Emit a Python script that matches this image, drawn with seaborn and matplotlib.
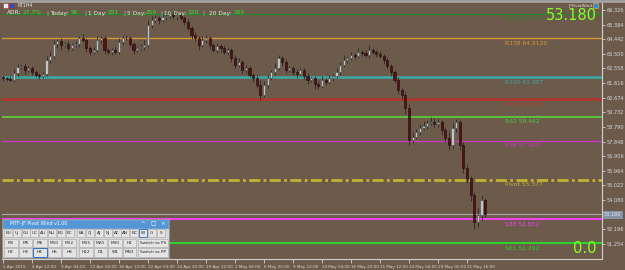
import matplotlib
matplotlib.use("Agg")
import matplotlib.pyplot as plt
import matplotlib.patches as mpatches
import seaborn as sns

# === Data ===
closes = [61.94, 61.88, 61.82, 62.27, 62.65, 62.72, 62.46, 62.59, 62.33, 62.14,
          62.07, 62.20, 63.10, 63.36, 64.14, 64.33, 64.07, 64.14, 63.88, 64.07,
          64.14, 64.52, 64.39, 63.88, 63.62, 63.75, 64.39, 64.52, 63.75, 63.62,
          63.75, 63.62, 64.26, 64.52, 64.52, 64.14, 63.75, 63.88, 63.94, 64.07,
          65.36, 65.68, 65.81, 65.68, 65.88, 65.94, 66.07, 65.94, 66.00, 65.81,
          65.55, 65.17, 64.72, 64.52, 64.07, 64.39, 64.52, 64.07, 63.75, 64.01,
          63.88, 63.62, 63.75, 63.23, 62.78, 62.98, 62.46, 62.59, 62.14, 61.94,
          61.49, 60.85, 61.49, 61.94, 62.33, 62.59, 63.23, 62.98, 62.46, 62.59,
          62.33, 62.20, 62.46, 62.07, 61.82, 61.94, 61.56, 61.43, 61.82, 61.69,
          61.94, 62.07, 62.33, 62.78, 63.10, 63.23, 63.43, 63.36, 63.62, 63.56,
          63.43, 63.75, 63.62, 63.49, 63.36, 63.10, 62.72, 62.33, 61.82, 61.17,
          60.85, 60.01, 57.95, 58.14, 58.47, 58.72, 58.85, 59.05, 59.11, 58.98,
          59.11, 58.59, 58.08, 57.63, 58.72, 59.11, 57.63, 56.15, 55.50, 54.41,
          52.67, 53.12, 54.08, 53.18]
first_open = 62.00
wick_up = [0.15, 0.10, 0.20, 0.25, 0.20, 0.15, 0.20, 0.10, 0.15, 0.10,
           0.15, 0.20, 0.25, 0.30, 0.25, 0.15, 0.20, 0.15, 0.20, 0.15,
           0.20, 0.15, 0.25, 0.15, 0.10, 0.20, 0.25, 0.15, 0.20, 0.10,
           0.15, 0.20, 0.25, 0.15, 0.20, 0.10, 0.15, 0.10, 0.20, 0.30,
           0.30, 0.25, 0.20, 0.15, 0.20, 0.15, 0.25, 0.20, 0.15, 0.10,
           0.15, 0.20, 0.15, 0.20, 0.10, 0.25, 0.20, 0.15, 0.10, 0.20,
           0.15, 0.20, 0.10, 0.15, 0.20, 0.25, 0.15, 0.20, 0.10, 0.15,
           0.20, 0.30, 0.25, 0.20, 0.15, 0.30, 0.20, 0.15, 0.20, 0.10,
           0.15, 0.20, 0.10, 0.15, 0.20, 0.10, 0.15, 0.20, 0.25, 0.15,
           0.20, 0.15, 0.25, 0.20, 0.30, 0.15, 0.20, 0.10, 0.25, 0.15,
           0.20, 0.30, 0.15, 0.10, 0.20, 0.15, 0.20, 0.10, 0.15, 0.20,
           0.15, 0.20, 0.25, 0.30, 0.20, 0.25, 0.30, 0.20, 0.35, 0.25,
           0.20, 0.15, 0.20, 0.45, 0.30, 0.20, 0.15, 0.20, 0.25, 0.15,
           0.20, 0.50, 0.30, 0.15]
wick_dn = [0.20, 0.15, 0.10, 0.15, 0.20, 0.10, 0.25, 0.15, 0.20, 0.15,
           0.20, 0.10, 0.15, 0.20, 0.15, 0.25, 0.30, 0.15, 0.20, 0.10,
           0.15, 0.20, 0.15, 0.25, 0.20, 0.15, 0.10, 0.20, 0.25, 0.15,
           0.20, 0.15, 0.10, 0.20, 0.15, 0.20, 0.25, 0.15, 0.10, 0.20,
           0.15, 0.20, 0.15, 0.25, 0.10, 0.20, 0.15, 0.20, 0.25, 0.15,
           0.20, 0.15, 0.25, 0.20, 0.30, 0.15, 0.20, 0.25, 0.15, 0.20,
           0.25, 0.15, 0.20, 0.25, 0.20, 0.15, 0.25, 0.20, 0.15, 0.25,
           0.20, 0.35, 0.15, 0.20, 0.15, 0.20, 0.15, 0.25, 0.20, 0.15,
           0.20, 0.25, 0.15, 0.20, 0.25, 0.15, 0.30, 0.20, 0.15, 0.20,
           0.15, 0.20, 0.15, 0.20, 0.15, 0.20, 0.15, 0.20, 0.15, 0.20,
           0.15, 0.20, 0.15, 0.20, 0.15, 0.25, 0.20, 0.25, 0.20, 0.25,
           0.30, 0.40, 0.35, 0.20, 0.15, 0.20, 0.15, 0.20, 0.15, 0.20,
           0.25, 0.30, 0.25, 0.30, 0.20, 0.25, 0.30, 0.35, 0.30, 0.40,
           0.45, 0.30, 0.35, 0.20]

date_ticks = [0, 8, 16, 24, 32, 40, 48, 56, 64, 72, 80, 88, 96, 104, 112, 120, 128]
date_labels = ["1 Apr 2015", "4 Apr 12:00", "9 Apr 04:00", "13 Apr 20:00", "16 Apr 12:00",
               "22 Apr 04:00", "24 Apr 20:00", "29 Apr 12:00", "2 May 04:00", "6 May 20:00",
               "9 May 12:00", "14 May 04:00", "16 May 20:00", "21 May 12:00", "24 May 04:00",
               "29 May 00:00", "31 May 16:00"]
price_ticks = [66.326, 65.384, 64.442, 63.500, 62.558, 61.616, 60.674, 59.732, 58.790,
               57.848, 56.906, 55.964, 55.022, 54.080, 52.196, 51.254]
last_price = 53.180

level_names = ["R161", "R138", "R100", "R78", "R61", "R38", "Pivot", "S38", "S61"]
level_values = [66.072, 64.5120, 61.987, 60.5720, 59.462, 57.902, 55.377, 52.852, 51.292]
level_texts = ["66.072", "64.5120", "61.987", "60.5720", "59.462", "57.902", "55.377", "52.852", "51.292"]
level_colors = ["#2f7f2f", "#d9973a", "#3fa3a0", "#b0372f", "#5cc23c", "#c93cc0", "#c2b232", "#f040f0", "#2ed02e"]
level_widths = [1.0, 1.0, 2.0, 2.0, 1.4, 1.0, 2.0, 1.5, 1.5]

adr_labels = ["ADR:", "Today:", "1 Day:", "5 Day:", "10 Day:", "20 Day:"]
adr_values = ["27.7%", "56", "251", "250", "220", "185"]

pairs_row = ["EU", "UJ", "GU", "UC", "AU", "NU", "EG", "EC", "EA", "CJ", "AJ", "NJ",
             "AC", "AN", "NC", "W", "G", "S"]
tf_row1 = ["M1", "M5", "M6", "M10", "M12", "M15", "M20", "M30", "H1", "Switch to PS"]
tf_row2 = ["H2", "H3", "H4", "H6", "H8", "H12", "D1", "W1", "MN1", "Switch to PP"]

# === Style ===
BG = "#6c5b4a"
sns.set_theme(style="dark", rc={"axes.facecolor": BG, "figure.facecolor": BG})
plt.rcParams["font.family"] = ["DejaVu Sans"]

W, H = 625, 270
fig = plt.figure(figsize=(W / 100, H / 100), dpi=100)
ax = fig.add_axes([2 / W, 11 / H, 600 / W, 256 / H])

px_per_unit = 15.52
ax.set_ylim(66.326 - (259 - 10) / px_per_unit, 66.326 + (10 - 3) / px_per_unit)
ax.set_xlim((2 - 3) / 3.625, (602 - 3) / 3.625)


def fx(x):
    return x / W


def fy(y):
    return 1 - y / H


def box(x0, y0, x1, y1, fc, ec=None, lw=0.5, z=10):
    r = mpatches.Rectangle((fx(x0), fy(y1)), (x1 - x0) / W, (y1 - y0) / H,
                           transform=fig.transFigure, facecolor=fc,
                           edgecolor=ec if ec else fc, linewidth=lw, zorder=z)
    fig.add_artist(r)


# === Level lines ===
for name, val, txt, col, lw in zip(level_names, level_values, level_texts, level_colors, level_widths):
    ls = (0, (4, 1.2, 1, 1.2)) if name == "Pivot" else "-"
    ax.axhline(val, color=col, lw=lw, ls=ls, zorder=2)
    ax.annotate(f"{name} {txt}", xy=(0.838, val), xycoords=("axes fraction", "data"),
                xytext=(0, -1.8), textcoords="offset points", ha="left", va="top",
                fontsize=4.3, color=col, zorder=3)
ax.axhline(last_price, color="#a9a9a9", lw=0.8, zorder=2)

# === Candles ===
opens = [first_open] + closes[:-1]
for i, (o, c, wu, wd) in enumerate(zip(opens, closes, wick_up, wick_dn)):
    hi = max(o, c) + wu
    lo = min(o, c) - wd
    up = c >= o
    ax.vlines(i, lo, hi, color="#2a2a2a", lw=0.6, zorder=4)
    body = max(abs(c - o), 0.03)
    ax.bar(i, body, bottom=min(o, c), width=0.62,
           color="#c4c4c4" if up else "#5a1010",
           edgecolor="#4a4a4a" if up else "#1a0a0a", linewidth=0.4, zorder=5)

# === Axes styling ===
ax.yaxis.tick_right()
ax.set_yticks(price_ticks)
ax.set_yticklabels([f"{p:.3f}" for p in price_ticks])
ax.tick_params(axis="y", which="major", direction="out", length=2, width=0.6,
               color="#cfcfcf", labelsize=3.6, labelcolor="#d8d8d8", pad=1.5, right=True)
ax.set_xticks(date_ticks)
ax.set_xticklabels(date_labels)
for lab in ax.get_xticklabels():
    lab.set_horizontalalignment("left")
ax.tick_params(axis="x", which="major", direction="out", length=3, width=0.6,
               color="#cfcfcf", labelsize=3.0, labelcolor="#d8d8d8", pad=1, bottom=True)
ax.grid(False)
for side in ["top", "left"]:
    ax.spines[side].set_visible(False)
for side in ["right", "bottom"]:
    ax.spines[side].set_color("#cfcfcf")
    ax.spines[side].set_linewidth(0.8)

# current price label box on the axis
fig.text(fx(604), fy(215), f"{last_price:.3f}", fontsize=3.6, color="#dfe6ef", va="center", ha="left",
         bbox=dict(boxstyle="square,pad=0.25", fc="#8593a6", ec="none"), zorder=12)

# === Overlays ===
box(0, 0, 625, 2, "#a4a4a4", z=1)
box(3, 3, 8, 8, "#e8e8f0", "#b03030", lw=0.4)
box(9, 3, 14, 8, "#3050b0", "#c03030", lw=0.4)
fig.text(fx(17), fy(5.5), "RT1H4", fontsize=3.4, color="#e8e8e8", va="center")

label_x = [7, 50, 88, 127, 164, 209]
value_x = [23, 71, 108, 146, 188, 233]
bar_x = [46, 84, 123, 160, 202]
for lx, vx, lab, val in zip(label_x, value_x, adr_labels, adr_values):
    fig.text(fx(lx), fy(13), lab, fontsize=4.2, color="#e6e6e6", va="center")
    fig.text(fx(vx), fy(13), val, fontsize=4.2, color="#33e033", va="center")
for bx in bar_x:
    fig.text(fx(bx), fy(13), "|", fontsize=4.2, color="#a8b4d0", va="center")

fig.text(fx(597), fy(8.5), f"{last_price:.3f}", fontsize=10.5, color="#86ff2a", ha="right", va="top")
fig.text(fx(597), fy(256), "0.0", fontsize=10.5, color="#86ff2a", ha="right", va="bottom")
fig.text(fx(592), fy(5.5), "JFPivotWind", fontsize=3, color="#e0e0e0", ha="right", va="center")
box(593, 3, 598, 8, "#3a8ad0", "#f0c030", lw=0.4)

# === Pivot panel widget ===
box(2, 219, 169, 258, "#d6d6d6", "#8c8c8c", lw=0.5)
box(3, 220, 168, 227.5, "#5596d6")
fig.text(fx(10), fy(223.8), "MTF-JF Pivot Wind v1.00", fontsize=3.4, color="white", va="center", zorder=12)
for xi, sym in zip([143, 153, 163], ["^", "\u25a1", "\u00d7"]):
    fig.text(fx(xi), fy(223.8), sym, fontsize=4, color="white", ha="center", va="center", zorder=12)

for k, lab in enumerate(pairs_row):
    x0 = 4 + k * 8.8 + (3 if k >= 8 else 0)
    hl = lab == "W"
    box(x0, 228.5, x0 + 8, 237, "#e4e4e4", "#3070c0" if hl else "#a6a6a6", lw=0.6 if hl else 0.4, z=11)
    fig.text(fx(x0 + 4), fy(232.8), lab, fontsize=3.1, color="#222222", ha="center", va="center", zorder=12)

for row, y0 in [(tf_row1, 238.5), (tf_row2, 248)]:
    for k, lab in enumerate(row):
        if k < 9:
            x0 = 4 + k * 14.6 + (2 if k >= 5 else 0)
            x1 = x0 + 13.5
        else:
            x0, x1 = 137.5, 168
        hl = lab == "H4"
        box(x0, y0, x1, y0 + 8.5, "#e4e4e4", "#3070c0" if hl else "#a6a6a6", lw=0.7 if hl else 0.4, z=11)
        fig.text(fx((x0 + x1) / 2), fy(y0 + 4.3), lab, fontsize=3.1, color="#222222",
                 ha="center", va="center", zorder=12)

fig.savefig("out.png", dpi=100, facecolor=BG)
